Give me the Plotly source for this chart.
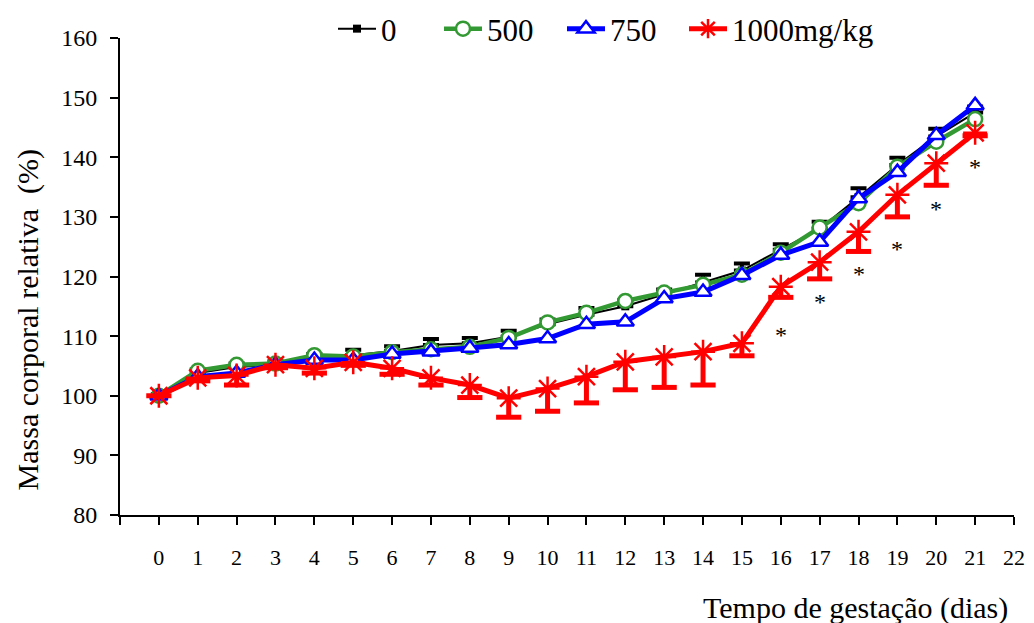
import plotly.graph_objects as go

days = list(range(22))

ctrl_0 = [100, 103.8, 104.8, 105.3, 106.5, 106.8, 107.5, 108.5, 108.8, 109.9, 112.0, 113.6,
          115.0, 117.0, 119.0, 121.0, 124.5, 128.0, 133.3, 138.7, 143.5, 147.5]
ctrl_0_err = [0.3, 0.6, 0.6, 0.5, 0.5, 0.9, 0.8, 1.0, 0.9, 1.0, 0.8, 1.1,
              1.0, 0.8, 1.3, 1.2, 0.9, 1.2, 1.5, 1.2, 1.3, 1.0]

dose_500 = [100, 104.2, 105.2, 105.4, 106.8, 106.6, 107.3, 107.8, 108.2, 109.7, 112.3, 113.9,
            115.9, 117.3, 118.6, 120.3, 124.0, 128.2, 132.3, 138.4, 142.6, 146.4]

dose_750 = [100, 103.2, 103.8, 105.2, 106.0, 106.0, 107.0, 107.4, 108.0, 108.6, 109.6, 112.0,
            112.4, 116.3, 117.4, 120.2, 123.6, 125.8, 133.1, 137.5, 143.7, 148.7]

dose_1000 = [100, 103.0, 103.4, 105.2, 104.6, 105.6, 104.6, 103.0, 101.8, 99.6, 101.2, 103.2,
             105.7, 106.5, 107.4, 108.8, 118.3, 122.4, 127.5, 133.7, 139.0, 144.1]
dose_1000_err = [0, 0.5, 1.6, 0.5, 0.8, 0.5, 1.0, 1.2, 2.1, 3.2, 3.8, 4.4,
                 4.7, 5.1, 5.6, 2.1, 1.8, 2.8, 3.3, 3.7, 3.7, 0.5]

sig_days = [16, 17, 18, 19, 20, 21]
sig_y = [110.2, 115.8, 120.5, 124.6, 131.4, 138.4]

x_ticks = list(range(-1, 23))
y_ticks = [80, 90, 100, 110, 120, 130, 140, 150, 160]

FONT = "'Liberation Serif', 'Times New Roman', Times, serif"
BLACK = "#000000"
GREEN = "#339933"
BLUE = "#0000FF"
RED = "#FF0000"

fig = go.Figure()

# control (0)
fig.add_trace(go.Scatter(
    x=days, y=ctrl_0, name="0", mode="lines+markers", legend="legend",
    line=dict(color=BLACK, width=2),
    marker=dict(symbol="square", size=8, color=BLACK),
    error_y=dict(type="data", symmetric=False, array=ctrl_0_err,
                 arrayminus=[0] * len(ctrl_0_err), color=BLACK, thickness=4, width=8),
))

# 500
fig.add_trace(go.Scatter(
    x=days, y=dose_500, name="500", mode="lines+markers", legend="legend2",
    line=dict(color=GREEN, width=4.5),
    marker=dict(symbol="circle", size=14, color="white", line=dict(color=GREEN, width=2.5)),
))

# 750
fig.add_trace(go.Scatter(
    x=days, y=dose_750, name="750", mode="lines+markers", legend="legend3",
    line=dict(color=BLUE, width=5),
    marker=dict(symbol="triangle-up", size=15, color="white", line=dict(color=BLUE, width=2.5)),
))

# 1000 error caps (lower only)
lower_1000 = [v - e for v, e in zip(dose_1000, dose_1000_err)]
fig.add_trace(go.Scatter(
    x=days, y=lower_1000, mode="markers", showlegend=False, hoverinfo="skip",
    marker=dict(symbol="line-ew", size=18, line=dict(color=RED, width=5)),
))

# 1000
fig.add_trace(go.Scatter(
    x=days, y=dose_1000, name="1000mg/kg", mode="lines+markers", legend="legend4",
    line=dict(color=RED, width=5),
    marker=dict(symbol="asterisk-open", size=20, color=RED, line=dict(color=RED, width=2.5)),
    error_y=dict(type="data", symmetric=False, array=[0] * len(dose_1000_err),
                 arrayminus=dose_1000_err, color=RED, thickness=5, width=0),
))

for d, yv in zip(sig_days, sig_y):
    fig.add_annotation(x=d, y=yv, text="*", showarrow=False,
                       font=dict(family=FONT, size=24, color=BLACK))

fig.add_annotation(xref="paper", yref="paper", x=1, y=0, xanchor="right", yanchor="top",
                   xshift=-4, yshift=-74, text="Tempo de gestação (dias)", showarrow=False,
                   font=dict(family=FONT, size=30, color=BLACK))
fig.add_annotation(xref="paper", yref="paper", x=0, y=0.41, xanchor="center", yanchor="middle",
                   xshift=-92, textangle=-90, text="Massa corporal relativa  (%)", showarrow=False,
                   font=dict(family=FONT, size=30, color=BLACK))

legend_common = dict(orientation="h", xref="container", yref="container",
                     xanchor="left", yanchor="middle", y=1 - 29 / 623,
                     font=dict(family=FONT, size=31, color=BLACK), itemwidth=38,
                     bgcolor="rgba(0,0,0,0)", borderwidth=0)

fig.update_layout(
    width=1034, height=623,
    margin=dict(l=120, r=20, t=38, b=108, autoexpand=False),
    paper_bgcolor="white", plot_bgcolor="white",
    font=dict(family=FONT, color=BLACK),
    showlegend=True,
    legend=dict(legend_common, x=333 / 1034),
    legend2=dict(legend_common, x=439 / 1034),
    legend3=dict(legend_common, x=562 / 1034),
    legend4=dict(legend_common, x=684 / 1034),
    xaxis=dict(range=[-1, 22], tickmode="array", tickvals=x_ticks,
               ticktext=["" if t < 0 else str(t) for t in x_ticks],
               showgrid=False, zeroline=False, showline=True, linecolor=BLACK, linewidth=2,
               ticks="outside", ticklen=8, tickwidth=2, tickcolor=BLACK,
               tickfont=dict(family=FONT, size=22, color=BLACK), ticklabelstandoff=14),
    yaxis=dict(range=[80, 160], tickmode="array", tickvals=y_ticks,
               showgrid=False, zeroline=False, showline=True, linecolor=BLACK, linewidth=2,
               ticks="outside", ticklen=8, tickwidth=2, tickcolor=BLACK,
               tickfont=dict(family=FONT, size=24, color=BLACK), ticklabelstandoff=8),
)

fig.write_html("out.html")
